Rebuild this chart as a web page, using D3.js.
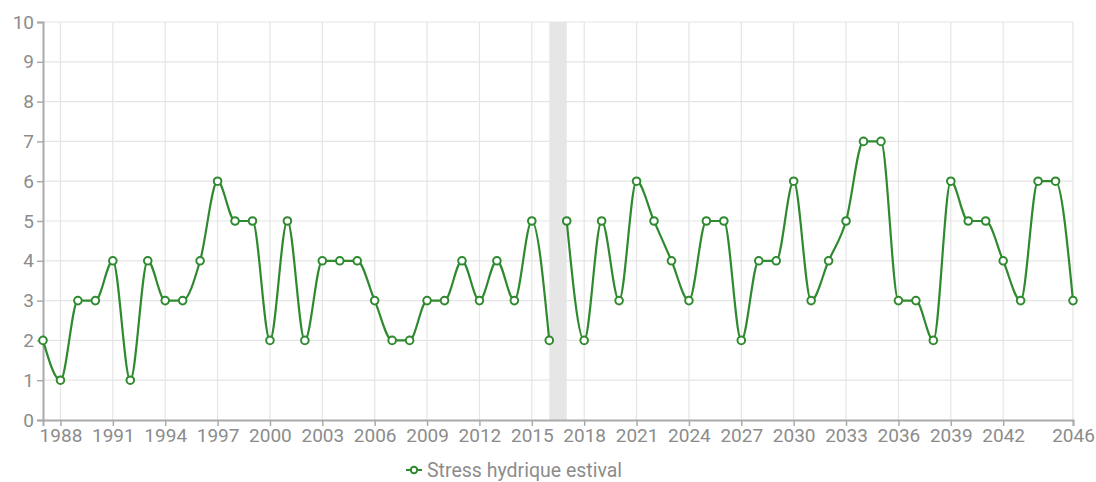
<!DOCTYPE html>
<html>
<head>
<meta charset="utf-8">
<script src="https://cdn.jsdelivr.net/npm/d3@7"></script>
<style>
  body { margin: 0; background: #fff; }
  text { font-family: Roboto, "Noto Sans", sans-serif; }
</style>
</head>
<body>
<div id="chart"></div>
<script>
// years and values
var years = d3.range(1987, 2047);
var values = [2, 1, 3, 3, 4, 1, 4, 3, 3, 4, 6, 5, 5, 2, 5, 2, 4, 4, 4, 3,
              2, 2, 3, 3, 4, 3, 4, 3, 5, 2,
              5, 2, 5, 3, 6, 5, 4, 3, 5, 5, 2, 4, 4, 6, 3, 4, 5, 7, 7, 3,
              3, 2, 6, 5, 5, 4, 3, 6, 6, 3];
var xTicks = [1988, 1991, 1994, 1997, 2000, 2003, 2006, 2009, 2012, 2015, 2018,
              2021, 2024, 2027, 2030, 2033, 2036, 2039, 2042, 2046];
var yTicks = d3.range(0, 11);
var gapStart = 2016, gapEnd = 2017;
var seriesName = "Stress hydrique estival";

var width = 1096, height = 482;
var margin = {top: 22, right: 23, bottom: 62, left: 43};

var svg = d3.select("#chart").append("svg")
    .attr("width", width)
    .attr("height", height);

var x = d3.scaleLinear()
    .domain([1987, 2046])
    .range([margin.left, width - margin.right]);

var y = d3.scaleLinear()
    .domain([0, 10])
    .range([height - margin.bottom, margin.top]);

var green = "#2f8a2f";

// grey band where the series is broken
svg.append("rect")
    .attr("x", x(gapStart))
    .attr("y", y(10))
    .attr("width", x(gapEnd) - x(gapStart))
    .attr("height", y(0) - y(10))
    .attr("fill", "#e6e6e6");

// grid
svg.append("g").selectAll("line")
    .data(yTicks.slice(1))
    .enter().append("line")
    .attr("x1", margin.left).attr("x2", width - margin.right)
    .attr("y1", function(d) { return y(d); })
    .attr("y2", function(d) { return y(d); })
    .attr("stroke", "#e5e5e5").attr("stroke-width", 1.2);

svg.append("g").selectAll("line")
    .data(xTicks)
    .enter().append("line")
    .attr("x1", function(d) { return x(d); })
    .attr("x2", function(d) { return x(d); })
    .attr("y1", y(10)).attr("y2", y(0))
    .attr("stroke", "#e5e5e5").attr("stroke-width", 1.2);

// axes
var xAxis = svg.append("g")
    .attr("transform", "translate(0," + y(0) + ")")
    .call(d3.axisBottom(x).tickValues(xTicks).tickFormat(d3.format("d")).tickSize(6).tickPadding(3));

var yAxis = svg.append("g")
    .attr("transform", "translate(" + margin.left + ",0)")
    .call(d3.axisLeft(y).tickValues(yTicks).tickSize(6).tickPadding(3));

[xAxis, yAxis].forEach(function(ax) {
    ax.select(".domain").attr("stroke", "#aaa").attr("stroke-width", 2);
    ax.selectAll(".tick line").attr("stroke", "#aaa").attr("stroke-width", 1.5);
    ax.selectAll(".tick text").attr("fill", "#8c8c8c").attr("font-size", 19);
});

// data, split at the gap
var data = years.map(function(yr, i) { return {year: yr, value: values[i]}; });
var parts = [
    data.filter(function(d) { return d.year <= gapStart; }),
    data.filter(function(d) { return d.year >= gapEnd; })
];

var line = d3.line()
    .x(function(d) { return x(d.year); })
    .y(function(d) { return y(d.value); })
    .curve(d3.curveMonotoneX);

svg.append("g").selectAll("path")
    .data(parts)
    .enter().append("path")
    .attr("d", line)
    .attr("fill", "none")
    .attr("stroke", green)
    .attr("stroke-width", 2.2);

svg.append("g").selectAll("circle")
    .data(data)
    .enter().append("circle")
    .attr("cx", function(d) { return x(d.year); })
    .attr("cy", function(d) { return y(d.value); })
    .attr("r", 3.8)
    .attr("fill", "#fff")
    .attr("stroke", green)
    .attr("stroke-width", 2);

// legend
var legend = svg.append("g").attr("transform", "translate(406,470)");
legend.append("line")
    .attr("x1", 0).attr("x2", 16)
    .attr("stroke", green).attr("stroke-width", 2);
legend.append("circle")
    .attr("cx", 8).attr("r", 3.2)
    .attr("fill", "#fff").attr("stroke", green).attr("stroke-width", 2);
legend.append("text")
    .attr("x", 21).attr("dy", "0.35em")
    .attr("fill", "#8c8c8c").attr("font-size", 19.5)
    .text(seriesName);
</script>
</body>
</html>
